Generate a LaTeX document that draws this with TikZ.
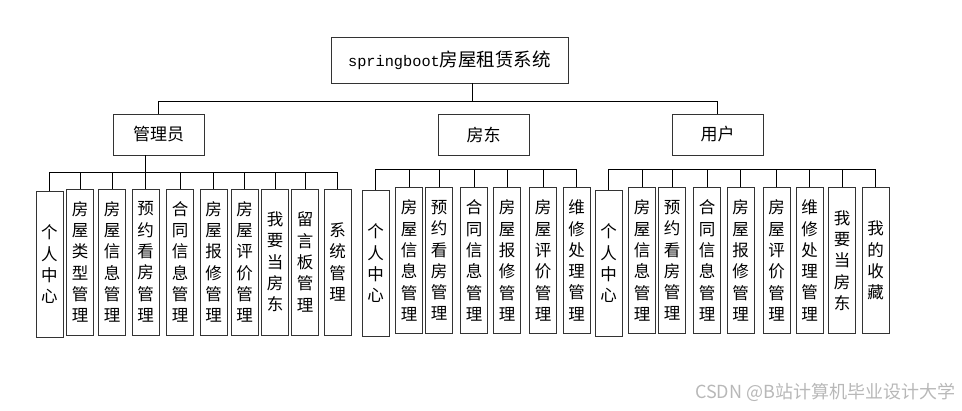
\documentclass[tikz,border=0pt]{standalone}
\usepackage{fontspec}
\newfontfamily\cjk{Noto Sans CJK SC}
\newfontfamily\latmono{Liberation Mono}
\begin{document}
\begin{tikzpicture}[
                            x=1pt, y=-1pt,
                            line width=0.8pt,
                            box/.style={draw=black!80, minimum width=91pt, minimum height=41pt, inner sep=0pt, font=\cjk\fontsize{17}{20}\selectfont},
                            leaf/.style={draw=black!80, minimum width=27pt, minimum height=146pt, inner sep=0pt, align=center, font=\cjk\fontsize{16.5}{21.3}\selectfont}
                        ]
                        \useasboundingbox (0,0) rectangle (962,410);
                        % Blocks
                        \node [box, minimum width=237pt, minimum height=46pt, font=\cjk\fontsize{18.5}{22}\selectfont] (sys) at (449.5,60) {{\latmono\fontsize{15.3}{18}\selectfont springboot}房屋租赁系统};
                        \node [box] (admin) at (158.5,134.5) {管理员};
                        \node [box] (owner) at (483.5,134.5) {房东};
                        \node [box] (user) at (717.5,134.5) {用户};
                        \coordinate (topbus) at (472,101);
                        \coordinate (abus) at (0,172);
                        \coordinate (obus) at (0,169);
                        \coordinate (ubus) at (0,169);

                        % Admin functions
                        \foreach \i/\x/\y/\t in {1/49.5/264.5/{个\\人\\中\\心}, 2/80/262/{房\\屋\\类\\型\\管\\理}, 3/112/262/{房\\屋\\信\\息\\管\\理}, 4/145.5/262/{预\\约\\看\\房\\管\\理}, 5/180/262/{合\\同\\信\\息\\管\\理}, 6/213.5/262/{房\\屋\\报\\修\\管\\理}, 7/244.5/262/{房\\屋\\评\\价\\管\\理}, 8/275/262/{我\\要\\当\\房\\东}, 9/305/262/{留\\言\\板\\管\\理}, 10/337.5/262/{系\\统\\管\\理}}
                            \node [leaf] (a\i) at (\x,\y) {\t};
                        % Landlord functions
                        \foreach \i/\x/\y/\t in {1/375.5/263.5/{个\\人\\中\\心}, 2/409/260.5/{房\\屋\\信\\息\\管\\理}, 3/439/260.5/{预\\约\\看\\房\\管\\理}, 4/474/260.5/{合\\同\\信\\息\\管\\理}, 5/507/260.5/{房\\屋\\报\\修\\管\\理}, 6/543/260.5/{房\\屋\\评\\价\\管\\理}, 7/576.5/260.5/{维\\修\\处\\理\\管\\理}}
                            \node [leaf] (o\i) at (\x,\y) {\t};
                        % User functions
                        \foreach \i/\x/\y/\t in {1/608.5/263.5/{个\\人\\中\\心}, 2/642/260.5/{房\\屋\\信\\息\\管\\理}, 3/672/260.5/{预\\约\\看\\房\\管\\理}, 4/707/260.5/{合\\同\\信\\息\\管\\理}, 5/740.5/260.5/{房\\屋\\报\\修\\管\\理}, 6/776.5/260.5/{房\\屋\\评\\价\\管\\理}, 7/809.5/260.5/{维\\修\\处\\理\\管\\理}, 8/842/260.5/{我\\要\\当\\房\\东}, 9/875.5/260.5/{我\\的\\收\\藏}}
                            \node [leaf] (u\i) at (\x,\y) {\t};

                        \node [anchor=east, text=black!28, font=\cjk\fontsize{18}{20}\selectfont] (mark) at (959,392) {CSDN @B站计算机毕业设计大学};

                        % Connections
                        \draw ([xshift=22.5pt]sys.south) -- ([xshift=22.5pt]sys.south |- topbus);
                        \draw (admin.north) -- (admin.north |- topbus) -- (user.north |- topbus) -- (user.north);
                        \draw ([xshift=-13.5pt]admin.south) -- ([xshift=-13.5pt]admin.south |- abus);
                        \draw (a1.north |- abus) -- (a10.north |- abus);
                        \foreach \i in {1,...,10}
                            \draw (a\i.north) -- (a\i.north |- abus);
                        \draw (o1.north |- obus) -- (o7.north |- obus);
                        \foreach \i in {1,...,7}
                            \draw (o\i.north) -- (o\i.north |- obus);
                        \draw (u1.north |- ubus) -- (u9.north |- ubus);
                        \foreach \i in {1,...,9}
                            \draw (u\i.north) -- (u\i.north |- ubus);
                    \end{tikzpicture}
\end{document}
